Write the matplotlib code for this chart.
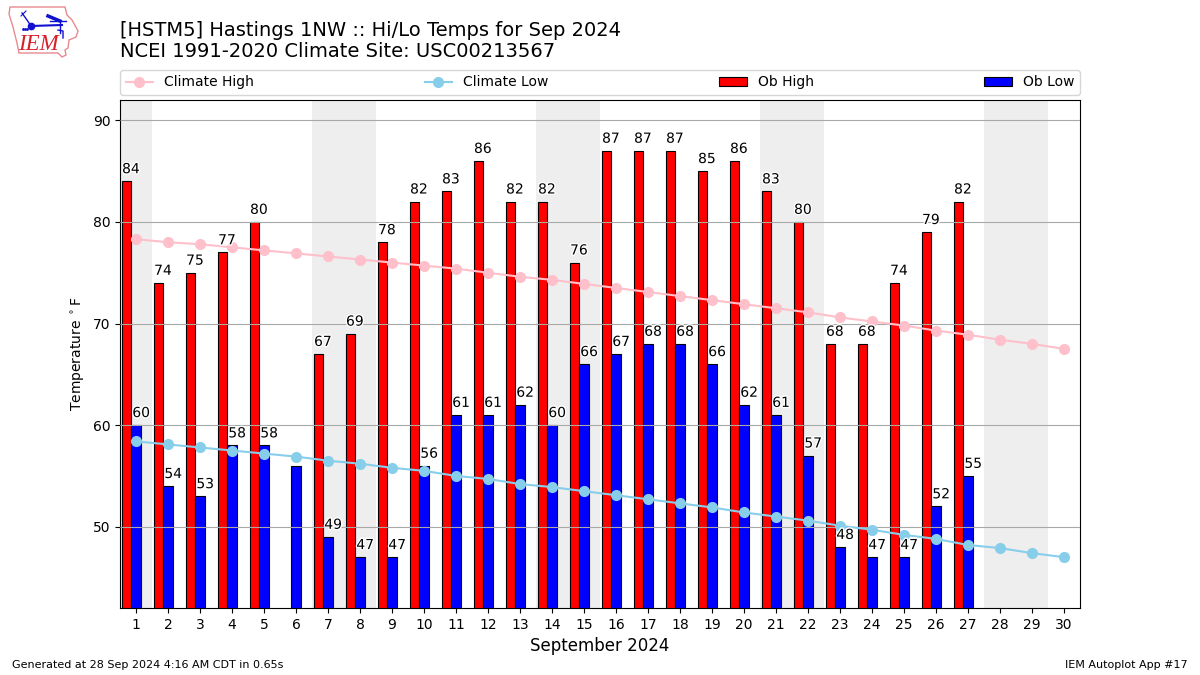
import matplotlib

matplotlib.use("Agg")
import matplotlib.patheffects as pe
import matplotlib.pyplot as plt
from matplotlib.patches import Polygon

days = list(range(1, 31))
ob_days = list(range(1, 28))
ob_high = [84, 74, 75, 77, 80, None, 67, 69, 78, 82, 83, 86, 82, 82, 76, 87, 87, 87, 85, 86, 83, 80, 68, 68, 74, 79, 82]
ob_low = [60, 54, 53, 58, 58, 56, 49, 47, 47, 56, 61, 61, 62, 60, 66, 67, 68, 68, 66, 62, 61, 57, 48, 47, 47, 52, 55]
climate_high = [78.3, 78.0, 77.8, 77.5, 77.2, 76.9, 76.6, 76.3, 76.0, 75.7, 75.4, 75.0, 74.6, 74.3, 73.9,
                73.5, 73.1, 72.7, 72.3, 71.9, 71.5, 71.1, 70.6, 70.2, 69.8, 69.3, 68.9, 68.4, 68.0, 67.5]
climate_low = [58.4, 58.1, 57.8, 57.5, 57.2, 56.9, 56.5, 56.2, 55.8, 55.5, 55.0, 54.7, 54.2, 53.9, 53.5,
               53.1, 52.7, 52.3, 51.9, 51.4, 51.0, 50.6, 50.1, 49.7, 49.2, 48.8, 48.2, 47.9, 47.4, 47.0]
weekends = [(0.5, 1.5), (6.5, 8.5), (13.5, 15.5), (20.5, 22.5), (27.5, 29.5)]
# the low on the 6th has no label in the original
unlabeled_low = [6]

W, H = 1200, 675
fig = plt.figure(figsize=(12, 6.75), dpi=100)
ax = fig.add_axes([120 / W, 1 - 608 / H, 960 / W, 508 / H])

for start, end in weekends:
    ax.axvspan(start, end, color="#EEEEEE", lw=0, zorder=0)
ax.grid(axis="y", color="#A8A8A8", lw=0.8, zorder=1)
ax.set_axisbelow(False)

high_x = [d for d, v in zip(ob_days, ob_high) if v is not None]
high_y = [v for v in ob_high if v is not None]
width = 0.3
ax.bar([d - 0.45 for d in high_x], high_y, width=width, align="edge", color="red",
       edgecolor="black", lw=0.8, label="Ob High", zorder=2)
ax.bar([d - 0.15 for d in ob_days], ob_low, width=width, align="edge", color="blue",
       edgecolor="black", lw=0.8, label="Ob Low", zorder=2)
ax.plot(days, climate_high, color="pink", marker="o", ms=7, lw=1.5, label="Climate High", zorder=3)
ax.plot(days, climate_low, color="skyblue", marker="o", ms=7, lw=1.5, label="Climate Low", zorder=3)

halo = [pe.withStroke(linewidth=2, foreground="white")]
for d, v in zip(high_x, high_y):
    ax.text(d - 0.16, v + 0.5, str(v), ha="center", va="bottom", fontsize=10, color="black",
            path_effects=halo, zorder=4)
for d, v in zip(ob_days, ob_low):
    if d in unlabeled_low:
        continue
    ax.text(d + 0.16, v + 0.5, str(v), ha="center", va="bottom", fontsize=10, color="black",
            path_effects=halo, zorder=4)

ax.set_xlim(0.5, 30.5)
ax.set_ylim(42, 92)
ax.set_xticks(days)
ax.set_yticks([50, 60, 70, 80, 90])
ax.tick_params(labelsize=10)
ax.set_xlabel("September 2024", fontsize=12)
ax.set_ylabel(r"Temperature $^\circ$F", fontsize=10)

handles, labels = ax.get_legend_handles_labels()
order = [labels.index(n) for n in ["Climate High", "Climate Low", "Ob High", "Ob Low"]]
ax.legend([handles[i] for i in order], [labels[i] for i in order], ncol=4, mode="expand",
          loc="lower left", bbox_to_anchor=(0, 1.01, 1, 0.05), borderaxespad=0, fontsize=10)

fig.text(120 / W, 1 - 61 / H, "[HSTM5] Hastings 1NW :: Hi/Lo Temps for Sep 2024\n"
         "NCEI 1991-2020 Climate Site: USC00213567", fontsize=14, va="bottom", ha="left", linespacing=1.15)
fig.text(12 / W, 1 - 670 / H, "Generated at 28 Sep 2024 4:16 AM CDT in 0.65s", fontsize=8, va="bottom")
fig.text(1188 / W, 1 - 670 / H, "IEM Autoplot App #17", fontsize=8, va="bottom", ha="right")

# logo, drawn in pixel coordinates of the figure
logo = fig.add_axes([0, 0, 1, 1], facecolor="none")
logo.set_xlim(0, W)
logo.set_ylim(H, 0)
logo.axis("off")
outline = [(10, 7), (65, 7), (67, 15), (72, 20), (78, 31), (76, 37), (69, 40), (68, 48), (65, 50),
           (66, 55), (62, 57), (58, 53), (19, 53), (17, 43), (13, 27), (9, 14)]
logo.add_patch(Polygon(outline, closed=True, fill=False, ec="#E88A90", lw=1))
blue = "#1010D0"
logo.plot([31, 62], [26, 25], color=blue, lw=1.5)
logo.plot([31], [26], "o", color=blue, ms=4.5)
logo.plot([22, 27, 31], [13, 20, 26], color=blue, lw=1)
logo.plot([21, 26], [16, 11], color=blue, lw=0.8)
logo.plot([48, 60], [16, 21], color=blue, lw=2.5)
logo.plot([50, 66], [21, 21], color=blue, lw=1)
logo.plot([60, 60], [21, 33], color=blue, lw=1)
logo.plot([58, 63, 63], [30, 31, 38], color=blue, lw=1)
logo.plot([23, 25, 27], [29, 29, 29], ".", color=blue, ms=2)
logo.text(38, 45, "IEM", family="Liberation Serif", style="italic", color="#D8202A", fontsize=16.5,
          ha="center", va="center")

fig.savefig("out.png", dpi=100, facecolor="white")
